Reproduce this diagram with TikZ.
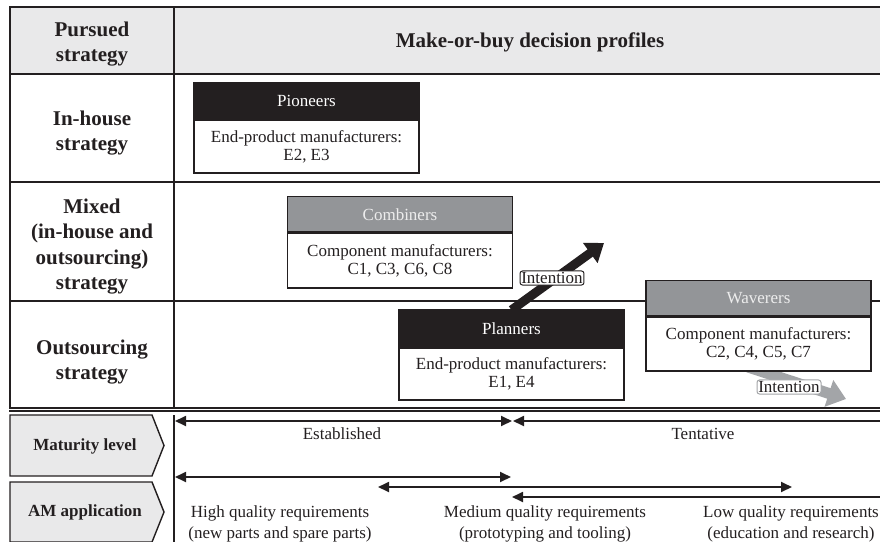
\documentclass[tikz,border=0pt]{standalone}
\usepackage{fontspec}
\setmainfont{Liberation Serif}
\usetikzlibrary{arrows.meta}
\definecolor{ink}{HTML}{231F20}
\definecolor{hdrgray}{HTML}{E9E9EA}
\definecolor{boxgray}{HTML}{939598}
\definecolor{arrgray}{HTML}{A3A5A8}
\definecolor{lighttext}{HTML}{EDEDED}
\tikzset{
  grid/.style={draw=ink, line width=1.4pt},
  lab/.style={font=\fontsize{21}{25.5}\selectfont\bfseries, align=center, text=ink, inner sep=0pt},
  hdr/.style={draw=ink, line width=1.4pt, minimum width=225pt, minimum height=36pt, inner sep=0pt, anchor=north, font=\fontsize{17}{18}\selectfont},
  bdy/.style={draw=ink, fill=white, line width=1.4pt, minimum width=225pt, minimum height=53pt, inner sep=0pt, anchor=north, align=center, text=ink, font=\fontsize{17}{18}\selectfont},
  intent/.style={draw=#1, fill=white, rounded corners=2.5pt, line width=1pt, inner sep=1.3pt, text=ink, font=\fontsize{17}{17}\selectfont},
  chev/.style={draw=ink, fill=hdrgray, line width=1.4pt},
  chevtext/.style={font=\fontsize{17}{18}\selectfont\bfseries, text=ink, inner sep=0pt},
  txt/.style={font=\fontsize{17}{21}\selectfont, align=center, text=ink, inner sep=0pt},
  dbl/.style={draw=ink, line width=1.8pt, {Triangle[length=11pt,width=10pt]}-{Triangle[length=11pt,width=10pt]}},
  lft/.style={draw=ink, line width=1.8pt, {Triangle[length=11pt,width=10pt]}-},
}
\begin{document}
\begin{tikzpicture}[x=1pt,y=-1pt]
\useasboundingbox (0,0) rectangle (880,541);

% table
\fill[hdrgray] (10,7) rectangle (882,74);
\draw[grid] (882,7) -- (10,7) -- (10,409);
\draw[grid] (174,7) -- (174,409);
\draw[grid] (10,74) -- (882,74);
\draw[grid] (10,182) -- (882,182);
\draw[grid] (10,301) -- (882,301);
\draw[draw=ink, line width=1.1pt] (9.3,408) -- (882,408);
\draw[draw=ink, line width=1.1pt] (9.3,411) -- (882,411);

% left labels
\node[lab] (ps) at (92,44) {Pursued\\strategy};
\node[lab] (ih) at (92,133) {In-house\\strategy};
\node[lab] (mx) at (92,246.5) {Mixed\\(in-house and\\outsourcing)\\strategy};
\node[lab] (os) at (92,362) {Outsourcing\\strategy};
\node[lab] (tt) at (530,42) {Make-or-buy decision profiles};

% intention arrows (drawn under boxes)
\coordinate (tipB) at (604,243);
\coordinate (tipG) at (846,399);
\coordinate (startB) at (511.5,310);
\coordinate (startG) at (748,367);
\draw[draw=ink, line width=9pt, -{Triangle[length=17pt,width=24pt]}] (startB) -- (tipB);
\draw[draw=arrgray, line width=11pt, -{Triangle[length=18pt,width=27pt]}] (startG) -- (tipG);

% profile boxes
\node[hdr, fill=ink, text=white] (pio) at (306.5,82) {Pioneers};
\node[bdy] (pioB) at (pio.south) {End-product manufacturers:\\E2, E3};

\node[hdr, fill=boxgray, text=lighttext, minimum height=35pt] (com) at (400,196) {Combiners};
\node[bdy, minimum height=55pt] (comB) at (com.south) {Component manufacturers:\\C1, C3, C6, C8};

\node[hdr, fill=ink, text=white, minimum height=37pt] (pla) at (511.5,309) {Planners};
\node[bdy, minimum height=52pt] (plaB) at (pla.south) {End-product manufacturers:\\E1, E4};

\node[hdr, fill=boxgray, text=lighttext, minimum height=35pt] (wav) at (758.5,280) {Waverers};
\node[bdy, minimum height=54pt] (wavB) at (wav.south) {Component manufacturers:\\C2, C4, C5, C7};

\node[intent=ink] (int1) at (552,278) {Intention};
\node[intent=arrgray] (int2) at (789,387) {Intention};

% lower part
\draw[chev] (10,415) -- (152,415) -- (164,445.5) -- (152,476) -- (10,476) -- cycle;
\draw[chev] (10,482) -- (152,482) -- (164,512) -- (152,542) -- (10,542) -- cycle;
\node[chevtext] (ml) at (85,446) {Maturity level};
\node[chevtext] (am) at (85,512) {AM application};
\draw[grid] (174,415) -- (174,542);

\coordinate (e1) at (175,421);
\coordinate (e2) at (512,421);
\coordinate (t1) at (513,421);
\coordinate (t2) at (882,421);
\draw[dbl] (e1) -- (e2);
\draw[lft] (t1) -- (t2);
\node[txt] (est) at (342,434) {Established};
\node[txt] (ten) at (703,434) {Tentative};

\coordinate (h1) at (175,477);
\coordinate (h2) at (511,477);
\coordinate (m1) at (378,487);
\coordinate (m2) at (792,487);
\coordinate (l1) at (512,497);
\coordinate (l2) at (882,497);
\draw[dbl] (h1) -- (h2);
\draw[dbl] (m1) -- (m2);
\draw[lft] (l1) -- (l2);

\node[txt] (hq) at (280,523.5) {High quality requirements\\(new parts and spare parts)};
\node[txt] (mq) at (545,523.5) {Medium quality requirements\\(prototyping and tooling)};
\node[txt] (lq) at (791,523.5) {Low quality requirements\\(education and research)};
\end{tikzpicture}
\end{document}
